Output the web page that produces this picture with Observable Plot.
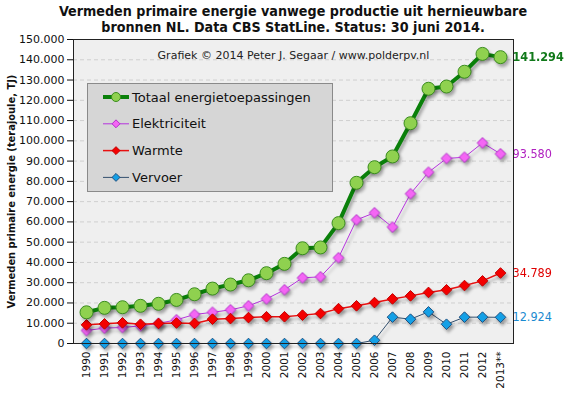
<!DOCTYPE html>
<html>
<head>
<meta charset="utf-8">
<script src="https://cdn.jsdelivr.net/npm/d3@7"></script>
<script src="https://cdn.jsdelivr.net/npm/@observablehq/plot@0.6"></script>
<style>
  body { margin: 0; background: white; font-family: "DejaVu Sans", Verdana, sans-serif; }
  #wrap { position: relative; width: 569px; height: 395px; }
  #title { width: 569px; height: 33px; padding-left: 17px; text-align: center; font-family: "DejaVu Sans Condensed", "DejaVu Sans", sans-serif; font-weight: bold; font-size: 14.2px; line-height: 15.5px; padding-top: 4px; box-sizing: border-box; color: #111; white-space: nowrap; }
  #legend { position: absolute; left: 87px; top: 83px; }
</style>
</head>
<body>
<div id="wrap">
  <div id="title">Vermeden primaire energie vanwege productie uit hernieuwbare<br>bronnen NL. Data CBS StatLine. Status: 30 juni 2014.</div>
  <div id="chart"></div>
  <div id="legend"></div>
</div>
<script>
const years = ["1990","1991","1992","1993","1994","1995","1996","1997","1998","1999","2000","2001","2002","2003","2004","2005","2006","2007","2008","2009","2010","2011","2012","2013**"];
const totaal = [15400,17600,17900,18600,19600,21500,24300,27100,29100,31200,34700,39300,47000,47400,59400,79300,87000,92300,108700,125700,126800,134100,142900,141294];
const elektriciteit = [6400,7600,7900,8700,9900,11700,14300,15400,16600,18600,22000,26500,32400,32900,42300,61000,64500,57400,73900,84500,91300,91900,99000,93580];
const warmte = [9200,9700,10200,9500,9900,10100,9900,12000,12300,12800,13200,13200,14000,14800,17200,18600,20200,22000,23500,25200,26500,28600,30900,34789];
const vervoer = [0,0,0,0,0,0,0,0,0,0,0,0,0,0,0,0,1600,13000,12000,15600,9500,13000,13000,12924];
const seriesNames = ["Totaal energietoepassingen","Elektriciteit","Warmte","Vervoer"];
const yTicks = [0,10000,20000,30000,40000,50000,60000,70000,80000,90000,100000,110000,120000,130000,140000,150000];
const credit = "Grafiek © 2014 Peter J. Segaar / www.polderpv.nl";
const yLabel = "Vermeden primaire energie (terajoule, TJ)";

const styles = {
  "Totaal energietoepassingen": {line: "#0a800a", width: 4, fill: "#8fd14f", stroke: "#3a8c1e", symbol: "circle", r: 6.5, label: "#11791a", bold: true},
  "Elektriciteit": {line: "#b534dd", width: 1, fill: "#f466f4", stroke: "#b030c8", symbol: "diamond2", r: 4.8, label: "#b020c0", bold: false},
  "Warmte": {line: "#e81010", width: 1.5, fill: "#f40000", stroke: "#c00000", symbol: "diamond2", r: 4.8, label: "#e00000", bold: false},
  "Vervoer": {line: "#34506e", width: 1, fill: "#14a0e6", stroke: "#1d4f80", symbol: "diamond2", r: 4.8, label: "#1a8ad0", bold: false}
};
const values = {"Totaal energietoepassingen": totaal, "Elektriciteit": elektriciteit, "Warmte": warmte, "Vervoer": vervoer};

const nl = d3.formatLocale({decimal: ",", thousands: ".", grouping: [3], currency: ["", ""]});
const fmt = nl.format(",");

const W = 569, H = 362, mL = 73, mR = 56, mT = 6, mB = 52;
const drawOrder = ["Vervoer", "Elektriciteit", "Warmte", "Totaal energietoepassingen"];

const marks = [
  Plot.frame({fill: "#efefef"}),
  Plot.ruleY(yTicks.filter(d => d > 0 && d < 150000), {stroke: "#cfcfcf", strokeDasharray: "4,3"}),
  Plot.text([credit], {frameAnchor: "top", dy: 12, text: d => d, fontSize: 11, fill: "#222"})
];
for (const name of drawOrder) {
  const s = styles[name];
  const data = years.map((y, i) => ({year: y, value: values[name][i]}));
  marks.push(Plot.line(data, {x: "year", y: "value", stroke: s.line, strokeWidth: s.width}));
  marks.push(Plot.dot(data, {x: "year", y: "value", symbol: s.symbol, r: s.r, fill: s.fill, stroke: s.stroke, strokeWidth: 1}));
  marks.push(Plot.text(data.slice(-1), {x: "year", y: "value", text: d => fmt(d.value), dx: 12, textAnchor: "start", fill: s.label, fontWeight: s.bold ? "bold" : "normal", fontSize: 12.5, fontFamily: "DejaVu Sans Condensed, DejaVu Sans, sans-serif"}));
}
marks.push(Plot.frame({stroke: "#222"}));

const chart = Plot.plot({
  width: W, height: H,
  marginLeft: mL, marginRight: mR, marginTop: mT, marginBottom: mB,
  style: {fontFamily: "DejaVu Sans, Verdana, sans-serif", fontSize: "11px", background: "white", overflow: "visible", color: "#111"},
  x: {type: "point", domain: years, padding: 0.5, tickRotate: -90, tickSize: 0, tickPadding: 8, label: null},
  y: {domain: [0, 150000], ticks: yTicks, tickFormat: fmt, tickSize: 6, tickPadding: 3, label: yLabel, labelAnchor: "center", labelOffset: 66},
  marks
});
document.getElementById("chart").appendChild(chart);

// styling tweaks: axis fonts, label, shadow
chart.querySelectorAll('g[aria-label="x-axis"] text, g[aria-label="x-axis tick label"] text').forEach(t => t.setAttribute("font-size", "10.5"));
chart.querySelectorAll('text').forEach(t => {
  if (t.textContent.includes("terajoule")) {
    t.textContent = yLabel;
    t.setAttribute("font-weight", "bold");
    t.setAttribute("font-family", "DejaVu Sans Condensed, DejaVu Sans, sans-serif");
    t.setAttribute("font-size", "11");
  }
});
chart.querySelectorAll('g[aria-label="line"], g[aria-label="dot"]').forEach(g => g.style.filter = "drop-shadow(2px 3px 1.5px rgba(0,0,0,0.3))");

// legend
const lw = 245, lh = 108;
const lg = d3.select("#legend").append("svg").attr("width", lw + 2).attr("height", lh + 2);
lg.append("rect").attr("x", 0.5).attr("y", 0.5).attr("width", lw).attr("height", lh).attr("fill", "#d6d6d6").attr("stroke", "#8a8a8a");
seriesNames.forEach((name, i) => {
  const s = styles[name];
  const cy = 14 + i * 26.8;
  const g = lg.append("g");
  g.append("line").attr("x1", 16).attr("x2", 42).attr("y1", cy).attr("y2", cy).attr("stroke", s.line).attr("stroke-width", s.width);
  if (s.symbol === "circle") {
    g.append("circle").attr("cx", 29).attr("cy", cy).attr("r", 4.5).attr("fill", s.fill).attr("stroke", s.stroke);
  } else {
    g.append("path").attr("d", d3.symbol(d3.symbolDiamond2, 40)()).attr("transform", `translate(29,${cy})`).attr("fill", s.fill).attr("stroke", s.stroke);
  }
  g.append("text").attr("x", 45).attr("y", cy).attr("dy", "0.36em").attr("font-size", 13).attr("font-family", "DejaVu Sans, sans-serif").attr("fill", "#111").text(name);
});
</script>
</body>
</html>
